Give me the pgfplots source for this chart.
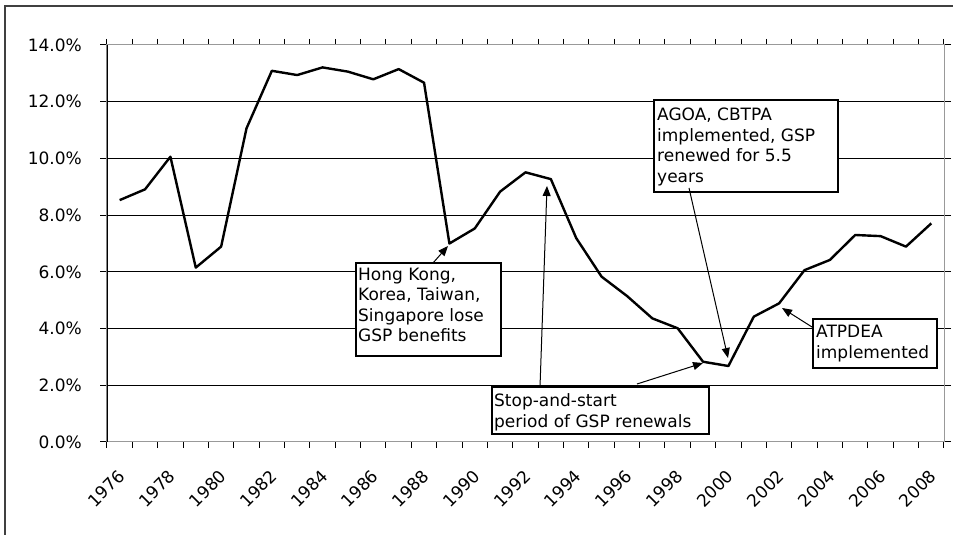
\documentclass[border=0pt]{standalone}
\usepackage{fontspec}
\setmainfont{DejaVu Sans}
\usepackage{pgfplots}
\pgfplotsset{compat=1.18}
\usetikzlibrary{arrows.meta}

\newcommand\lbl{\fontsize{17}{20.5}\selectfont}

\begin{document}
\begin{tikzpicture}
\path[use as bounding box] (-107pt,-93pt) rectangle (846pt,442pt);
\begin{axis}[
  scale only axis, width=837pt, height=397pt,
  xmin=1975.5, xmax=2008.5, ymin=0, ymax=14,
  xtick={1976,1978,...,2008},
  minor xtick={1975.5,1976.5,...,2008.5},
  ytick={0,2,...,14},
  tick align=outside,
  major tick length=7pt, minor tick length=6pt,
  major x tick style={draw=none},
  tick style={black, line width=1pt},
  axis line style={draw=black!40, line width=1pt},
  /pgf/number format/assume math mode=true,
  xticklabel={\pgfmathprintnumber[1000 sep={}]{\tick}},
  yticklabel={\pgfmathprintnumber[fixed,fixed zerofill,precision=1]{\tick}\%},
  yticklabel style={font=\lbl, anchor=east, inner sep=0pt, xshift=-18pt},
  xticklabel style={font=\lbl, yshift=-24pt, xshift=2pt, rotate=45, anchor=east, inner sep=0pt},
]
\pgfplotsinvokeforeach{2,4,...,12}{
  \draw[black, line width=1.2pt] (axis cs:1975.5,#1) -- (axis cs:2008.5,#1);
}
\addplot[black, line width=2.4pt, line join=round] coordinates {
  (1976,8.53) (1977,8.91) (1978,10.06) (1979,6.15) (1980,6.89)
  (1981,11.06) (1982,13.09) (1983,12.94) (1984,13.21) (1985,13.06)
  (1986,12.79) (1987,13.15) (1988,12.67) (1989,7.00) (1990,7.53)
  (1991,8.83) (1992,9.51) (1993,9.27) (1994,7.19) (1995,5.83)
  (1996,5.15) (1997,4.36) (1998,4.01) (1999,2.83) (2000,2.68)
  (2001,4.42) (2002,4.89) (2003,6.06) (2004,6.42) (2005,7.30)
  (2006,7.26) (2007,6.89) (2008,7.71)
};
\draw[black, line width=1.3pt] (rel axis cs:0,0) -- (rel axis cs:0,1);
\end{axis}

% annotations, in pixel coordinates of the reference (y downwards)
\begin{scope}[x=1pt, y=-1pt, shift={(-107pt,442pt)}]
  \draw[black!75, line width=1.5pt] (5,535) -- (5,6) -- (953,6);

  \draw[line width=1.2pt, fill=white] (356,263) rectangle (501,356);
  \node[anchor=north west, align=left, inner sep=0pt, font=\lbl] at (358,267.5)
    {Hong Kong,\\Korea, Taiwan,\\Singapore lose\\GSP benefits};
  \draw[line width=1pt, -{Triangle[length=10pt,width=8pt]}] (433,263) -- (448,246);

  \draw[line width=1.2pt, fill=white] (492,387) rectangle (709,434);
  \node[anchor=north west, align=left, inner sep=0pt, font=\lbl] at (494,393.5)
    {Stop-and-start\\period of GSP renewals};
  \draw[line width=1pt, -{Triangle[length=10pt,width=8pt]}] (540,387) -- (547,186);
  \draw[line width=1pt, -{Triangle[length=10pt,width=8pt]}] (637,384) -- (703,363);

  \draw[line width=1.2pt, fill=white] (654,100) rectangle (838,192);
  \node[anchor=north west, align=left, inner sep=0pt, font=\lbl] at (657,108)
    {AGOA, CBTPA\\implemented, GSP\\renewed for 5.5\\years};
  \draw[line width=1pt, -{Triangle[length=10pt,width=8pt]}] (689,188) -- (728,358);

  \draw[line width=1.2pt, fill=white] (813,319) rectangle (937,368);
  \node[anchor=north west, align=left, inner sep=0pt, font=\lbl] at (816,325)
    {ATPDEA\\implemented};
  \draw[line width=1pt, -{Triangle[length=10pt,width=8pt]}] (812,327) -- (782,308);
\end{scope}
\end{tikzpicture}
\end{document}
